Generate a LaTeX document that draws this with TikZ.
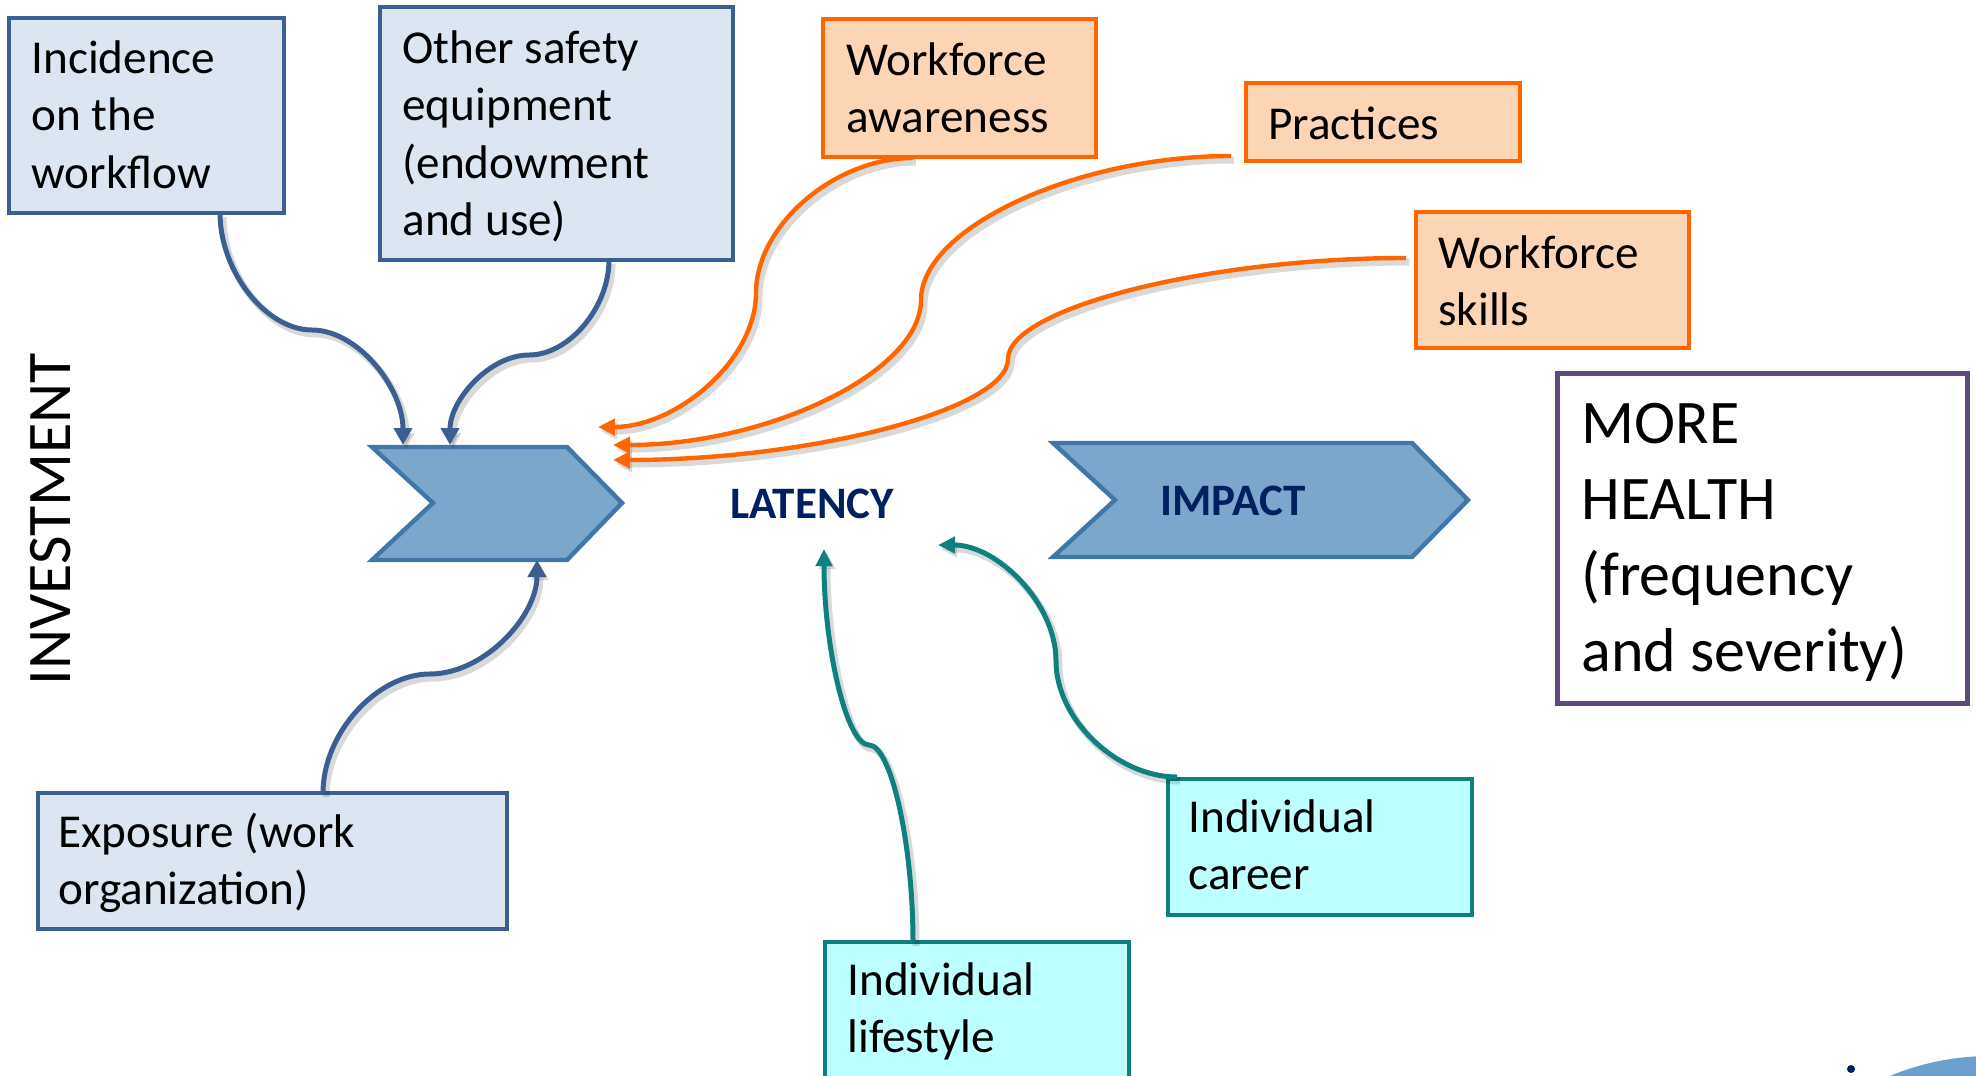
\documentclass[tikz,border=0pt]{standalone}
\usepackage{fontspec}
\setmainfont{Carlito}
\usetikzlibrary{calc,arrows.meta}
\definecolor{bbord}{HTML}{3B5F91}
\definecolor{bfill}{HTML}{DCE6F2}
\definecolor{chfill}{HTML}{7BA7CC}
\definecolor{chbord}{HTML}{4177A6}
\definecolor{orng}{HTML}{FF6600}
\definecolor{ofill}{HTML}{FCD5B5}
\definecolor{tealc}{HTML}{0E8080}
\definecolor{tfill}{HTML}{BEFFFF}
\definecolor{purp}{HTML}{604A7B}
\definecolor{navy}{HTML}{002060}
\definecolor{logoblue}{HTML}{6EA0CD}
\tikzset{
  bluebox/.style={draw=bbord, fill=bfill, line width=2pt},
  orangebox/.style={draw=orng, fill=ofill, line width=2pt},
  tealbox/.style={draw=tealc, fill=tfill, line width=2pt},
  healthbox/.style={draw=purp, fill=white, line width=2.5pt},
  chev/.style={fill=chfill, draw=chbord, line width=2.2pt, line join=miter},
  boxtext/.style={font=\fontsize{23.6pt}{28.75pt}\selectfont, align=left, inner sep=0pt, anchor=north west},
  bigtext/.style={font=\fontsize{31pt}{38pt}\selectfont, align=left, inner sep=0pt, anchor=north west},
  boldlabel/.style={font=\fontsize{22.5pt}{27pt}\selectfont\bfseries, text=navy, inner sep=0pt, anchor=base},
  shadowline/.style={draw=black, opacity=0.15, line width=3.5pt, transform canvas={shift={(1.5pt,-2pt)}}, -{Triangle[length=8pt,width=8pt]}},
  bluearrow/.style={draw=bbord, line width=2.5pt, -{Triangle[length=8.5pt,width=9pt]}},
  orangearrow/.style={draw=orng, line width=2.2pt, -{Triangle[length=8.5pt,width=8pt]}},
  tealarrow/.style={draw=tealc, line width=2.5pt, -{Triangle[length=8.5pt,width=8pt]}},
}
\newcommand\vconn[4]{%
  \coordinate (h1) at ($(#2)!0.5!(#3)$);
  \coordinate (h2) at ($(#3)!0.5!(#4)$);
  \draw[shadowline] (#2) .. controls (#2 |- h1) and (h1 |- #3) .. (#3) .. controls (h2 |- #3) and (#4 |- h2) .. (#4);
  \draw[#1] (#2) .. controls (#2 |- h1) and (h1 |- #3) .. (#3) .. controls (h2 |- #3) and (#4 |- h2) .. (#4);
}
\newcommand\hconn[4]{%
  \coordinate (h1) at ($(#2)!0.5!(#3)$);
  \coordinate (h2) at ($(#3)!0.5!(#4)$);
  \draw[shadowline] (#2) .. controls (h1 |- #2) and (#3 |- h1) .. (#3) .. controls (#3 |- h2) and (h2 |- #4) .. (#4);
  \draw[#1] (#2) .. controls (h1 |- #2) and (#3 |- h1) .. (#3) .. controls (#3 |- h2) and (h2 |- #4) .. (#4);
}
\begin{document}
\begin{tikzpicture}[x=0.5pt, y=-0.5pt]
\useasboundingbox (0,0) rectangle (1976,1076);
\clip (0,0) rectangle (1976,1076);
\fill[white] (0,0) rectangle (1976,1076);

% boxes
\path[bluebox] (9,18) rectangle (284,213);
\node[boxtext] (inc) at (31,33) {\rule{0pt}{20pt}Incidence\\on the\\workflow};
\path[bluebox] (380,7) rectangle (733,260);
\node[boxtext] (oth) at (402,23) {\rule{0pt}{20pt}Other safety\\equipment\\(endowment\\and use)};
\path[bluebox] (38,793) rectangle (507,929);
\node[boxtext] (exp) at (58,807) {\rule{0pt}{20pt}Exposure (work\\organization)};

\path[orangebox] (823,19) rectangle (1096,157);
\node[boxtext] (awa) at (846,35) {\rule{0pt}{20pt}Workforce\\awareness};
\path[orangebox] (1246,83) rectangle (1520,161);
\node[boxtext] (pra) at (1268,99) {\rule{0pt}{20pt}Practices};
\path[orangebox] (1416,212) rectangle (1689,348);
\node[boxtext] (ski) at (1438,228) {\rule{0pt}{20pt}Workforce\\skills};

\path[tealbox] (1168,779) rectangle (1472,915);
\node[boxtext] (car) at (1188,792) {\rule{0pt}{20pt}Individual\\career};
\path[tealbox] (825,942) rectangle (1129,1100);
\node[boxtext] (lif) at (847,955) {\rule{0pt}{20pt}Individual\\lifestyle};

\path[healthbox] (1557,373) rectangle (1967,703);
\node[bigtext] (mh) at (1581,391) {\rule{0pt}{26pt}MORE\\HEALTH\\(frequency\\and severity)};

% chevrons
\path[chev] (372,447) -- (567,447) -- (622,503) -- (567,560) -- (372,560) -- (433,503) -- cycle;
\path[chev] (1053,443) -- (1412,443) -- (1468,500) -- (1412,557) -- (1053,557) -- (1115,500) -- cycle;
\node[boldlabel] (imp) at (1233,515) {IMPACT};
\node[boldlabel] (lat) at (812,518) {LATENCY};
\node[font=\fontsize{31pt}{38pt}\selectfont, rotate=90, anchor=base, inner sep=0pt] (inv) at (70,519) {INVESTMENT};

% connector coordinates
\coordinate (incS) at (220,213); \coordinate (incM) at (312,330); \coordinate (incE) at (403,445);
\coordinate (othS) at (609,260); \coordinate (othM) at (529,355); \coordinate (othE) at (450,445);
\coordinate (expS) at (323,793); \coordinate (expM) at (430,674); \coordinate (expE) at (537,560);
\coordinate (awaS) at (913,158); \coordinate (awaM) at (756,293); \coordinate (awaE) at (598,427);
\coordinate (praS) at (1231,156); \coordinate (praM) at (921,300); \coordinate (praE) at (613,445);
\coordinate (skiS) at (1406,258); \coordinate (skiM) at (1008,359); \coordinate (skiE) at (613,460);
\coordinate (lifS) at (913,942); \coordinate (lifM) at (869,745); \coordinate (lifE) at (824,549);
\coordinate (carS) at (1177,777); \coordinate (carM) at (1056,661); \coordinate (carE) at (938,545);

\vconn{bluearrow}{incS}{incM}{incE}
\vconn{bluearrow}{othS}{othM}{othE}
\vconn{bluearrow}{expS}{expM}{expE}
\hconn{orangearrow}{awaS}{awaM}{awaE}
\hconn{orangearrow}{praS}{praM}{praE}
\hconn{orangearrow}{skiS}{skiM}{skiE}
\vconn{tealarrow}{lifS}{lifM}{lifE}
\hconn{tealarrow}{carS}{carM}{carE}

% partial logo at bottom right
\fill[logoblue] (1990,1316) circle[radius=130pt];
\fill[navy] (1851,1069) circle[radius=2pt];
\end{tikzpicture}
\end{document}
